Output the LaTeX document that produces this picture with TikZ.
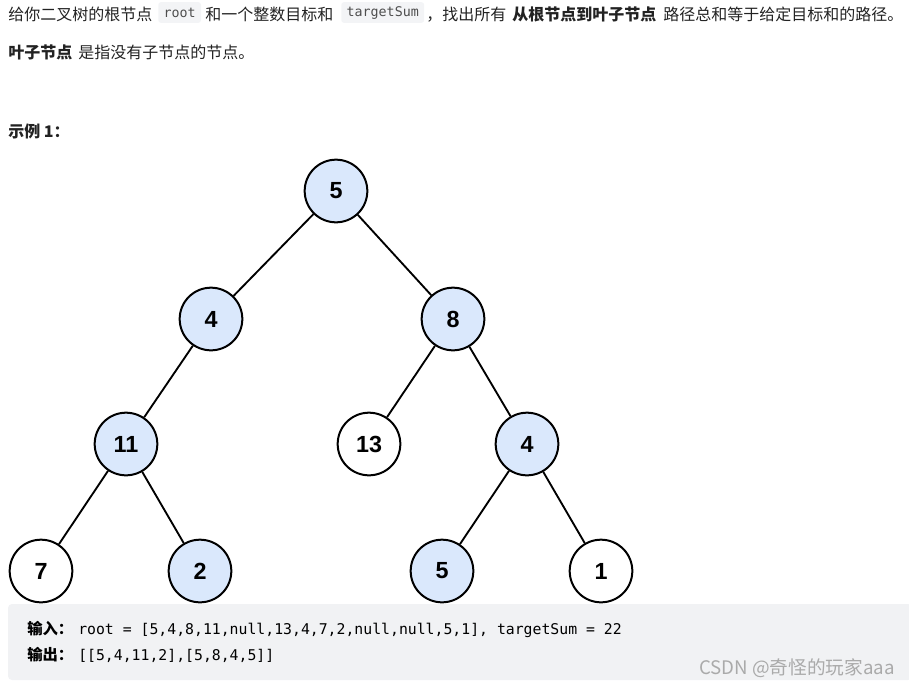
\documentclass[tikz,border=0pt]{standalone}
\usepackage{fontspec}
\setmainfont{Noto Sans CJK SC}
\setmonofont{DejaVu Sans Mono}
\newfontfamily\digitfont{Liberation Sans}
\definecolor{nodeblue}{RGB}{218,232,252}
\definecolor{codebg}{RGB}{241,242,244}
\definecolor{inlinebg}{RGB}{243,244,246}
\definecolor{bodytext}{RGB}{34,34,34}
\definecolor{wmgray}{RGB}{170,170,170}

\begin{document}
\begin{tikzpicture}[x=0.75pt,y=-0.75pt,
  tnode/.style={circle,draw=black,line width=1.5pt,minimum size=47pt,inner sep=0pt,
    font=\digitfont\bfseries\fontsize{17.5}{20}\selectfont},
  onpath/.style={tnode,fill=nodeblue},
  offpath/.style={tnode,fill=white},
  para/.style={anchor=base west,inner sep=0pt,text=bodytext,font=\fontsize{12}{14}\selectfont},
  inline/.style={anchor=west,fill=inlinebg,rounded corners=2pt,inner xsep=4pt,inner ysep=0pt,
    minimum height=15.5pt,text=bodytext!80,font=\ttfamily\fontsize{10}{12}\selectfont},
  codeline/.style={anchor=base west,inner sep=0pt,text=black,font=\ttfamily\fontsize{11.1}{13}\selectfont},
  edge/.style={line width=1.4pt}]
\useasboundingbox (0,0) rectangle (909,689);

% problem text
\node at (8,20) (t1) [para] {给你二叉树的根节点};
\node at (158,12.5) (c1) [inline] {root};
\node at (205,20) (t2) [para] {和一个整数目标和};
\node at (341,12.5) (c2) [inline] {targetSum};
\node at (426,20) (t3) [para] {，找出所有};
\node at (512,20) (t4) [para] {\bfseries 从根节点到叶子节点};
\node at (663,20) (t5) [para] {路径总和等于给定目标和的路径。};
\node at (8,58) (l1) [para] {\bfseries 叶子节点};
\node at (78,58) (l2) [para] {是指没有子节点的节点。};
\node at (8,137) (ex) [para] {\bfseries 示例 1：};

% tree
\node at (336,191) (r5)  [onpath]  {5};
\node at (211,319) (l4)  [onpath]  {4};
\node at (453,319) (r8)  [onpath]  {8};
\node at (126,444) (l11) [onpath]  {11};
\node at (369,444) (m13) [offpath] {13};
\node at (527,444) (r4)  [onpath]  {4};
\node at (41,571)  (l7)  [offpath] {7};
\node at (200,571) (l2n) [onpath]  {2};
\node at (442,571) (r5b) [onpath]  {5};
\node at (601,571) (r1)  [offpath] {1};
\draw [edge] (r5) -- (l4);
\draw [edge] (r5) -- (r8);
\draw [edge] (l4) -- (l11);
\draw [edge] (r8) -- (m13);
\draw [edge] (r8) -- (r4);
\draw [edge] (l11) -- (l7);
\draw [edge] (l11) -- (l2n);
\draw [edge] (r4) -- (r5b);
\draw [edge] (r4) -- (r1);

% example box
\fill [codebg,rounded corners=3pt] (8,604) rectangle (912,680);
\node at (27,634) (in)  [para,font=\bfseries\fontsize{11.5}{13}\selectfont,text=black] {输入：};
\node at (78,634) (inv) [codeline] {root = [5,4,8,11,null,13,4,7,2,null,null,5,1], targetSum = 22};
\node at (27,660) (out) [para,font=\bfseries\fontsize{11.5}{13}\selectfont,text=black] {输出：};
\node at (78,660) (outv) [codeline] {[[5,4,11,2],[5,8,4,5]]};
\node at (895,674) (wm) [anchor=base east,inner sep=0pt,text=wmgray,font=\fontsize{14}{16}\selectfont] {CSDN @奇怪的玩家aaa};
\end{tikzpicture}
\end{document}
